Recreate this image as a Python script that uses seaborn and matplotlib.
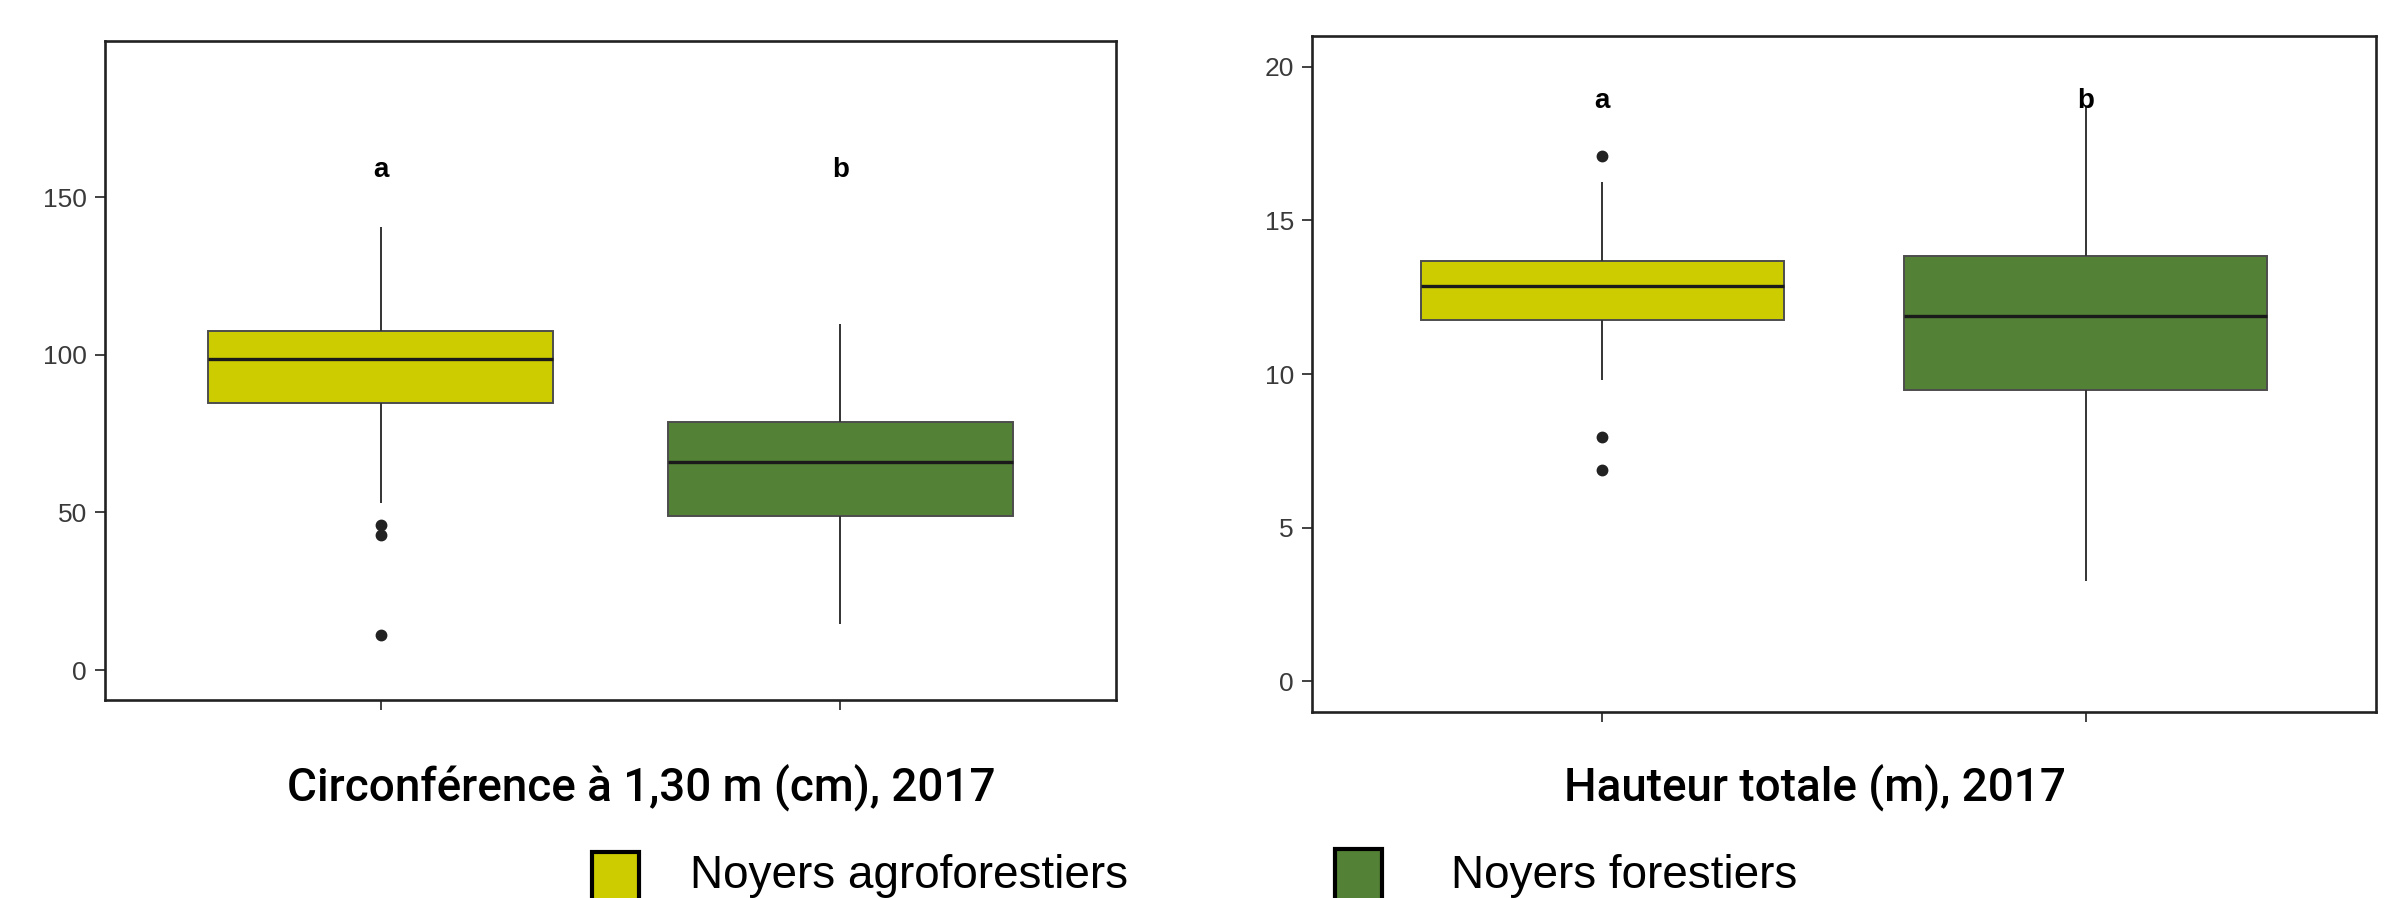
import matplotlib
matplotlib.use("Agg")
import matplotlib.pyplot as plt
import seaborn as sns
import pandas as pd
from matplotlib.patches import Rectangle

# ---- data (box statistics) ----
groups = ["Noyers agroforestiers", "Noyers forestiers"]
colors = ["#CCCC00", "#538135"]

# Circonférence à 1,30 m (cm)
circ_q1 = [84.6, 49.0]
circ_med = [98.5, 66.1]
circ_q3 = [107.6, 78.8]
circ_lo = [52.9, 14.5]
circ_hi = [140.5, 109.7]
circ_out_low = [[11.2, 42.9, 46.1], []]
circ_out_high = [[], []]
circ_letters = ["a", "b"]
circ_letter_y = 158.5
circ_ylim = (0, 190)
circ_ticks = [0, 50, 100, 150]

# Hauteur totale (m)
haut_q1 = [11.75, 9.49]
haut_med = [12.86, 11.88]
haut_q3 = [13.69, 13.84]
haut_lo = [9.82, 3.25]
haut_hi = [16.25, 18.7]
haut_out_low = [[6.87, 7.94], []]
haut_out_high = [[17.08], []]
haut_letters = ["a", "b"]
haut_letter_y = 18.9
haut_ylim = (0, 20)
haut_ticks = [0, 5, 10, 15, 20]

titles = ["Circonférence à 1,30 m (cm), 2017", "Hauteur totale (m), 2017"]


def build_values(lo_out, lo, q1, med, q3, hi, hi_out):
    """Points whose quartiles / whiskers / outliers reproduce the read statistics."""
    k = max(len(lo_out) + 1, len(hi_out) + 1)
    below = sorted(lo_out) + [lo] * (k - len(lo_out))
    above = [hi] * (k - len(hi_out)) + sorted(hi_out)
    return below + [q1] * k + [med] + [q3] * k + above


def make_df(q1, med, q3, lo, hi, out_lo, out_hi):
    rows = []
    for i, g in enumerate(groups):
        for v in build_values(out_lo[i], lo[i], q1[i], med[i], q3[i], hi[i], out_hi[i]):
            rows.append({"groupe": g, "valeur": v})
    return pd.DataFrame(rows)


df_circ = make_df(circ_q1, circ_med, circ_q3, circ_lo, circ_hi, circ_out_low, circ_out_high)
df_haut = make_df(haut_q1, haut_med, haut_q3, haut_lo, haut_hi, haut_out_low, haut_out_high)

sns.set_style("white")
plt.rcParams["font.family"] = ["Liberation Sans", "DejaVu Sans"]

W, H = 2387, 898
fig = plt.figure(figsize=(W / 100, H / 100), dpi=100)


def px_axes(left, right, top, bottom):
    return fig.add_axes([left / W, 1 - bottom / H, (right - left) / W, (bottom - top) / H])


ax1 = px_axes(105, 1116, 41, 700)
ax2 = px_axes(1312, 2376, 36, 712)


def draw(ax, df, letters, letter_y, ylim, ticks):
    sns.boxplot(
        data=df, x="groupe", y="valeur", hue="groupe", order=groups, hue_order=groups,
        palette=colors, width=0.75, dodge=False, legend=False, ax=ax, whis=1.5,
        showcaps=False, linecolor="#4d4d4d", linewidth=1.4, saturation=1,
        boxprops=dict(edgecolor="#4d4d4d", linewidth=1.4),
        medianprops=dict(color="#1a1a1a", linewidth=2.4),
        whiskerprops=dict(color="#333333", linewidth=1.4),
        flierprops=dict(marker="o", markerfacecolor="#222222", markeredgecolor="#222222",
                        markersize=7.5),
    )
    span = ylim[1] - ylim[0]
    ax.set_ylim(ylim[0] - 0.05 * span, ylim[1] + 0.05 * span)
    ax.set_xlim(-0.6, 1.6)
    ax.set_yticks(ticks)
    ax.set_yticklabels([str(t) for t in ticks])
    ax.set_xticks([0, 1])
    ax.set_xticklabels([])
    ax.set_xlabel("")
    ax.set_ylabel("")
    for s in ax.spines.values():
        s.set_visible(True)
        s.set_color("#222222")
        s.set_linewidth(1.9)
    ax.tick_params(axis="both", direction="out", length=7, width=1.3, color="#333333",
                   labelsize=19, labelcolor="#3a3a3a", pad=6)
    ax.tick_params(axis="x", bottom=True)
    ax.tick_params(axis="y", left=True)
    for i, l in enumerate(letters):
        ax.text(i, letter_y, l, ha="center", va="center", fontsize=20,
                fontweight="bold", color="black")


draw(ax1, df_circ, circ_letters, circ_letter_y, circ_ylim, circ_ticks)
draw(ax2, df_haut, haut_letters, haut_letter_y, haut_ylim, haut_ticks)

# titles under panels
fig.text(641 / W, 1 - 787 / H, titles[0], ha="center", va="center", fontsize=33,
         fontfamily="Roboto", fontweight="medium", color="black")
fig.text(1815 / W, 1 - 787 / H, titles[1], ha="center", va="center", fontsize=33,
         fontfamily="Roboto", fontweight="medium", color="black")

# legend at bottom
leg_x = [592, 1335]
leg_text_x = [690, 1451]
leg_top = [852, 849]
for i, g in enumerate(groups):
    fig.patches.append(Rectangle((leg_x[i] / W, -0.05), 47 / W, (H - leg_top[i]) / H + 0.05,
                                 transform=fig.transFigure, facecolor=colors[i],
                                 edgecolor="black", linewidth=3))
    fig.text(leg_text_x[i] / W, 1 - 888 / H, g, ha="left", va="baseline", fontsize=33,
             color="black")

fig.savefig("out.png", dpi=100)
